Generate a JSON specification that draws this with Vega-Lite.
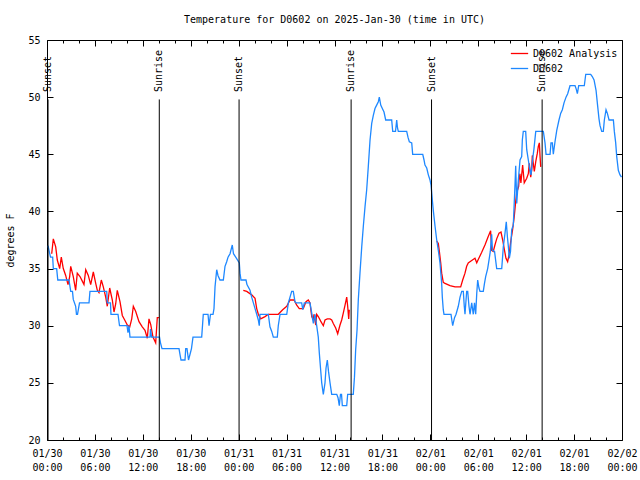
{
  "$schema": "https://vega.github.io/schema/vega-lite/v6.json",
  "width": 575,
  "height": 400,
  "autosize": {"type": "none"},
  "padding": {"left": 47, "top": 40, "right": 18, "bottom": 40},
  "background": "white",
  "title": {"text": "Temperature for D0602 on 2025-Jan-30 (time in UTC)", "font": "DejaVu Sans Mono", "fontSize": 10, "fontWeight": "normal", "color": "black", "offset": 10, "anchor": "middle"},
  "config": {
    "view": {"stroke": "black", "strokeWidth": 1},
    "font": "DejaVu Sans Mono",
    "axis": {"labelFont": "DejaVu Sans Mono", "labelFontSize": 10, "labelColor": "black", "titleFont": "DejaVu Sans Mono", "titleFontSize": 10, "titleFontWeight": "normal", "titleColor": "black", "tickColor": "black", "tickWidth": 1, "grid": false, "domain": false},
    "legend": {"labelFont": "DejaVu Sans Mono", "labelFontSize": 10, "labelColor": "black"}
  },
  "datasets": {
    "obs": [
      {"hour":0.59,"temp":36.3,"series":"D0602 Analysis","seg":"a1"},
      {"hour":0.79,"temp":37.6,"series":"D0602 Analysis","seg":"a1"},
      {"hour":1.09,"temp":36.9,"series":"D0602 Analysis","seg":"a1"},
      {"hour":1.29,"temp":35.75,"series":"D0602 Analysis","seg":"a1"},
      {"hour":1.59,"temp":35.0,"series":"D0602 Analysis","seg":"a1"},
      {"hour":1.79,"temp":36.0,"series":"D0602 Analysis","seg":"a1"},
      {"hour":2.04,"temp":35.0,"series":"D0602 Analysis","seg":"a1"},
      {"hour":2.34,"temp":34.4,"series":"D0602 Analysis","seg":"a1"},
      {"hour":2.63,"temp":33.6,"series":"D0602 Analysis","seg":"a1"},
      {"hour":2.84,"temp":34.3,"series":"D0602 Analysis","seg":"a1"},
      {"hour":2.97,"temp":35.2,"series":"D0602 Analysis","seg":"a1"},
      {"hour":3.29,"temp":34.3,"series":"D0602 Analysis","seg":"a1"},
      {"hour":3.59,"temp":33.1,"series":"D0602 Analysis","seg":"a1"},
      {"hour":3.79,"temp":34.6,"series":"D0602 Analysis","seg":"a1"},
      {"hour":4.13,"temp":34.3,"series":"D0602 Analysis","seg":"a1"},
      {"hour":4.42,"temp":33.9,"series":"D0602 Analysis","seg":"a1"},
      {"hour":4.63,"temp":33.6,"series":"D0602 Analysis","seg":"a1"},
      {"hour":4.85,"temp":34.9,"series":"D0602 Analysis","seg":"a1"},
      {"hour":5.17,"temp":34.4,"series":"D0602 Analysis","seg":"a1"},
      {"hour":5.47,"temp":33.6,"series":"D0602 Analysis","seg":"a1"},
      {"hour":5.8,"temp":34.7,"series":"D0602 Analysis","seg":"a1"},
      {"hour":6.1,"temp":33.7,"series":"D0602 Analysis","seg":"a1"},
      {"hour":6.3,"temp":33.1,"series":"D0602 Analysis","seg":"a1"},
      {"hour":6.51,"temp":32.9,"series":"D0602 Analysis","seg":"a1"},
      {"hour":6.8,"temp":34.0,"series":"D0602 Analysis","seg":"a1"},
      {"hour":7.05,"temp":33.4,"series":"D0602 Analysis","seg":"a1"},
      {"hour":7.35,"temp":32.5,"series":"D0602 Analysis","seg":"a1"},
      {"hour":7.55,"temp":31.7,"series":"D0602 Analysis","seg":"a1"},
      {"hour":7.85,"temp":33.3,"series":"D0602 Analysis","seg":"a1"},
      {"hour":8.18,"temp":32.25,"series":"D0602 Analysis","seg":"a1"},
      {"hour":8.39,"temp":31.2,"series":"D0602 Analysis","seg":"a1"},
      {"hour":8.6,"temp":31.9,"series":"D0602 Analysis","seg":"a1"},
      {"hour":8.8,"temp":33.1,"series":"D0602 Analysis","seg":"a1"},
      {"hour":9.14,"temp":32.1,"series":"D0602 Analysis","seg":"a1"},
      {"hour":9.43,"temp":30.9,"series":"D0602 Analysis","seg":"a1"},
      {"hour":9.73,"temp":30.5,"series":"D0602 Analysis","seg":"a1"},
      {"hour":10.06,"temp":30.06,"series":"D0602 Analysis","seg":"a1"},
      {"hour":10.36,"temp":29.9,"series":"D0602 Analysis","seg":"a1"},
      {"hour":10.61,"temp":30.6,"series":"D0602 Analysis","seg":"a1"},
      {"hour":10.81,"temp":31.7,"series":"D0602 Analysis","seg":"a1"},
      {"hour":11.11,"temp":31.25,"series":"D0602 Analysis","seg":"a1"},
      {"hour":11.52,"temp":30.35,"series":"D0602 Analysis","seg":"a1"},
      {"hour":11.93,"temp":29.9,"series":"D0602 Analysis","seg":"a1"},
      {"hour":12.27,"temp":29.6,"series":"D0602 Analysis","seg":"a1"},
      {"hour":12.56,"temp":28.9,"series":"D0602 Analysis","seg":"a1"},
      {"hour":12.77,"temp":30.6,"series":"D0602 Analysis","seg":"a1"},
      {"hour":12.99,"temp":30.1,"series":"D0602 Analysis","seg":"a1"},
      {"hour":13.27,"temp":29.0,"series":"D0602 Analysis","seg":"a1"},
      {"hour":13.61,"temp":28.5,"series":"D0602 Analysis","seg":"a1"},
      {"hour":13.81,"temp":30.7,"series":"D0602 Analysis","seg":"a1"},
      {"hour":14.02,"temp":30.7,"series":"D0602 Analysis","seg":"a1"},
      {"hour":24.58,"temp":33.1,"series":"D0602 Analysis","seg":"a2"},
      {"hour":25.01,"temp":33.0,"series":"D0602 Analysis","seg":"a2"},
      {"hour":25.63,"temp":32.7,"series":"D0602 Analysis","seg":"a2"},
      {"hour":26.05,"temp":32.4,"series":"D0602 Analysis","seg":"a2"},
      {"hour":26.26,"temp":31.5,"series":"D0602 Analysis","seg":"a2"},
      {"hour":26.46,"temp":31.0,"series":"D0602 Analysis","seg":"a2"},
      {"hour":26.76,"temp":30.6,"series":"D0602 Analysis","seg":"a2"},
      {"hour":27.3,"temp":30.8,"series":"D0602 Analysis","seg":"a2"},
      {"hour":27.71,"temp":31.0,"series":"D0602 Analysis","seg":"a2"},
      {"hour":28.96,"temp":31.0,"series":"D0602 Analysis","seg":"a2"},
      {"hour":29.51,"temp":31.4,"series":"D0602 Analysis","seg":"a2"},
      {"hour":30.02,"temp":31.7,"series":"D0602 Analysis","seg":"a2"},
      {"hour":30.43,"temp":32.25,"series":"D0602 Analysis","seg":"a2"},
      {"hour":30.93,"temp":32.25,"series":"D0602 Analysis","seg":"a2"},
      {"hour":31.27,"temp":31.8,"series":"D0602 Analysis","seg":"a2"},
      {"hour":31.59,"temp":31.5,"series":"D0602 Analysis","seg":"a2"},
      {"hour":32.09,"temp":31.5,"series":"D0602 Analysis","seg":"a2"},
      {"hour":32.43,"temp":32.1,"series":"D0602 Analysis","seg":"a2"},
      {"hour":32.72,"temp":32.25,"series":"D0602 Analysis","seg":"a2"},
      {"hour":32.93,"temp":32.0,"series":"D0602 Analysis","seg":"a2"},
      {"hour":33.15,"temp":30.8,"series":"D0602 Analysis","seg":"a2"},
      {"hour":33.35,"temp":30.5,"series":"D0602 Analysis","seg":"a2"},
      {"hour":33.43,"temp":31.0,"series":"D0602 Analysis","seg":"a2"},
      {"hour":33.65,"temp":30.06,"series":"D0602 Analysis","seg":"a2"},
      {"hour":33.77,"temp":31.0,"series":"D0602 Analysis","seg":"a2"},
      {"hour":33.97,"temp":30.8,"series":"D0602 Analysis","seg":"a2"},
      {"hour":34.27,"temp":30.4,"series":"D0602 Analysis","seg":"a2"},
      {"hour":34.6,"temp":30.0,"series":"D0602 Analysis","seg":"a2"},
      {"hour":34.81,"temp":30.5,"series":"D0602 Analysis","seg":"a2"},
      {"hour":35.1,"temp":30.6,"series":"D0602 Analysis","seg":"a2"},
      {"hour":35.44,"temp":30.6,"series":"D0602 Analysis","seg":"a2"},
      {"hour":35.65,"temp":30.5,"series":"D0602 Analysis","seg":"a2"},
      {"hour":35.85,"temp":30.2,"series":"D0602 Analysis","seg":"a2"},
      {"hour":36.15,"temp":29.8,"series":"D0602 Analysis","seg":"a2"},
      {"hour":36.4,"temp":29.3,"series":"D0602 Analysis","seg":"a2"},
      {"hour":36.69,"temp":30.06,"series":"D0602 Analysis","seg":"a2"},
      {"hour":36.9,"temp":30.5,"series":"D0602 Analysis","seg":"a2"},
      {"hour":37.1,"temp":31.1,"series":"D0602 Analysis","seg":"a2"},
      {"hour":37.32,"temp":31.8,"series":"D0602 Analysis","seg":"a2"},
      {"hour":37.53,"temp":32.5,"series":"D0602 Analysis","seg":"a2"},
      {"hour":37.65,"temp":31.7,"series":"D0602 Analysis","seg":"a2"},
      {"hour":37.78,"temp":30.6,"series":"D0602 Analysis","seg":"a2"},
      {"hour":37.85,"temp":31.4,"series":"D0602 Analysis","seg":"a2"},
      {"hour":48.8,"temp":37.4,"series":"D0602 Analysis","seg":"a3"},
      {"hour":49.0,"temp":37.2,"series":"D0602 Analysis","seg":"a3"},
      {"hour":49.13,"temp":36.5,"series":"D0602 Analysis","seg":"a3"},
      {"hour":49.3,"temp":35.5,"series":"D0602 Analysis","seg":"a3"},
      {"hour":49.42,"temp":34.6,"series":"D0602 Analysis","seg":"a3"},
      {"hour":49.62,"temp":33.8,"series":"D0602 Analysis","seg":"a3"},
      {"hour":49.84,"temp":33.7,"series":"D0602 Analysis","seg":"a3"},
      {"hour":50.46,"temp":33.5,"series":"D0602 Analysis","seg":"a3"},
      {"hour":51.09,"temp":33.4,"series":"D0602 Analysis","seg":"a3"},
      {"hour":51.8,"temp":33.4,"series":"D0602 Analysis","seg":"a3"},
      {"hour":52.05,"temp":34.0,"series":"D0602 Analysis","seg":"a3"},
      {"hour":52.34,"temp":34.6,"series":"D0602 Analysis","seg":"a3"},
      {"hour":52.55,"temp":35.2,"series":"D0602 Analysis","seg":"a3"},
      {"hour":52.75,"temp":35.5,"series":"D0602 Analysis","seg":"a3"},
      {"hour":53.18,"temp":35.7,"series":"D0602 Analysis","seg":"a3"},
      {"hour":53.59,"temp":35.9,"series":"D0602 Analysis","seg":"a3"},
      {"hour":53.81,"temp":35.5,"series":"D0602 Analysis","seg":"a3"},
      {"hour":54.0,"temp":35.8,"series":"D0602 Analysis","seg":"a3"},
      {"hour":54.42,"temp":36.4,"series":"D0602 Analysis","seg":"a3"},
      {"hour":54.84,"temp":37.06,"series":"D0602 Analysis","seg":"a3"},
      {"hour":55.25,"temp":37.8,"series":"D0602 Analysis","seg":"a3"},
      {"hour":55.55,"temp":38.3,"series":"D0602 Analysis","seg":"a3"},
      {"hour":55.68,"temp":36.6,"series":"D0602 Analysis","seg":"a3"},
      {"hour":55.88,"temp":36.5,"series":"D0602 Analysis","seg":"a3"},
      {"hour":56.09,"temp":37.06,"series":"D0602 Analysis","seg":"a3"},
      {"hour":56.31,"temp":37.6,"series":"D0602 Analysis","seg":"a3"},
      {"hour":56.6,"temp":38.1,"series":"D0602 Analysis","seg":"a3"},
      {"hour":56.85,"temp":38.2,"series":"D0602 Analysis","seg":"a3"},
      {"hour":57.06,"temp":37.5,"series":"D0602 Analysis","seg":"a3"},
      {"hour":57.26,"temp":36.7,"series":"D0602 Analysis","seg":"a3"},
      {"hour":57.47,"temp":35.9,"series":"D0602 Analysis","seg":"a3"},
      {"hour":57.68,"temp":35.6,"series":"D0602 Analysis","seg":"a3"},
      {"hour":57.88,"temp":36.3,"series":"D0602 Analysis","seg":"a3"},
      {"hour":58.05,"temp":37.3,"series":"D0602 Analysis","seg":"a3"},
      {"hour":58.3,"temp":38.4,"series":"D0602 Analysis","seg":"a3"},
      {"hour":58.5,"temp":39.5,"series":"D0602 Analysis","seg":"a3"},
      {"hour":58.68,"temp":40.8,"series":"D0602 Analysis","seg":"a3"},
      {"hour":58.8,"temp":41.6,"series":"D0602 Analysis","seg":"a3"},
      {"hour":58.93,"temp":41.9,"series":"D0602 Analysis","seg":"a3"},
      {"hour":59.06,"temp":42.2,"series":"D0602 Analysis","seg":"a3"},
      {"hour":59.13,"temp":42.9,"series":"D0602 Analysis","seg":"a3"},
      {"hour":59.22,"temp":43.3,"series":"D0602 Analysis","seg":"a3"},
      {"hour":59.34,"temp":42.5,"series":"D0602 Analysis","seg":"a3"},
      {"hour":59.56,"temp":44.06,"series":"D0602 Analysis","seg":"a3"},
      {"hour":59.76,"temp":42.5,"series":"D0602 Analysis","seg":"a3"},
      {"hour":60.07,"temp":42.9,"series":"D0602 Analysis","seg":"a3"},
      {"hour":60.27,"temp":43.3,"series":"D0602 Analysis","seg":"a3"},
      {"hour":60.39,"temp":44.2,"series":"D0602 Analysis","seg":"a3"},
      {"hour":60.57,"temp":43.0,"series":"D0602 Analysis","seg":"a3"},
      {"hour":60.69,"temp":43.6,"series":"D0602 Analysis","seg":"a3"},
      {"hour":60.77,"temp":44.9,"series":"D0602 Analysis","seg":"a3"},
      {"hour":60.89,"temp":44.2,"series":"D0602 Analysis","seg":"a3"},
      {"hour":61.02,"temp":43.5,"series":"D0602 Analysis","seg":"a3"},
      {"hour":61.2,"temp":44.35,"series":"D0602 Analysis","seg":"a3"},
      {"hour":61.4,"temp":45.1,"series":"D0602 Analysis","seg":"a3"},
      {"hour":61.52,"temp":45.7,"series":"D0602 Analysis","seg":"a3"},
      {"hour":61.65,"temp":46.0,"series":"D0602 Analysis","seg":"a3"},
      {"hour":61.74,"temp":44.8,"series":"D0602 Analysis","seg":"a3"},
      {"hour":61.82,"temp":43.9,"series":"D0602 Analysis","seg":"a3"},
      {"hour":0.13,"temp":37,"series":"D0602","seg":"b"},
      {"hour":0.25,"temp":36.6,"series":"D0602","seg":"b"},
      {"hour":0.44,"temp":36,"series":"D0602","seg":"b"},
      {"hour":0.71,"temp":36,"series":"D0602","seg":"b"},
      {"hour":0.79,"temp":35,"series":"D0602","seg":"b"},
      {"hour":1.21,"temp":35,"series":"D0602","seg":"b"},
      {"hour":1.35,"temp":34,"series":"D0602","seg":"b"},
      {"hour":2.75,"temp":34,"series":"D0602","seg":"b"},
      {"hour":2.97,"temp":33,"series":"D0602","seg":"b"},
      {"hour":3.19,"temp":33,"series":"D0602","seg":"b"},
      {"hour":3.29,"temp":32.3,"series":"D0602","seg":"b"},
      {"hour":3.59,"temp":31.7,"series":"D0602","seg":"b"},
      {"hour":3.69,"temp":31,"series":"D0602","seg":"b"},
      {"hour":3.82,"temp":31,"series":"D0602","seg":"b"},
      {"hour":4.07,"temp":32,"series":"D0602","seg":"b"},
      {"hour":5.26,"temp":32,"series":"D0602","seg":"b"},
      {"hour":5.38,"temp":33,"series":"D0602","seg":"b"},
      {"hour":7.48,"temp":33,"series":"D0602","seg":"b"},
      {"hour":7.55,"temp":32,"series":"D0602","seg":"b"},
      {"hour":7.95,"temp":32,"series":"D0602","seg":"b"},
      {"hour":8.01,"temp":31,"series":"D0602","seg":"b"},
      {"hour":8.89,"temp":31,"series":"D0602","seg":"b"},
      {"hour":9.08,"temp":30,"series":"D0602","seg":"b"},
      {"hour":10.02,"temp":30,"series":"D0602","seg":"b"},
      {"hour":10.14,"temp":29.4,"series":"D0602","seg":"b"},
      {"hour":10.27,"temp":30,"series":"D0602","seg":"b"},
      {"hour":10.39,"temp":29,"series":"D0602","seg":"b"},
      {"hour":12.9,"temp":29,"series":"D0602","seg":"b"},
      {"hour":12.96,"temp":29.7,"series":"D0602","seg":"b"},
      {"hour":13.09,"temp":29,"series":"D0602","seg":"b"},
      {"hour":14.09,"temp":29,"series":"D0602","seg":"b"},
      {"hour":14.21,"temp":28.5,"series":"D0602","seg":"b"},
      {"hour":14.4,"temp":28,"series":"D0602","seg":"b"},
      {"hour":16.53,"temp":28,"series":"D0602","seg":"b"},
      {"hour":16.65,"temp":27.5,"series":"D0602","seg":"b"},
      {"hour":16.78,"temp":27,"series":"D0602","seg":"b"},
      {"hour":17.28,"temp":27,"series":"D0602","seg":"b"},
      {"hour":17.37,"temp":28,"series":"D0602","seg":"b"},
      {"hour":17.53,"temp":28,"series":"D0602","seg":"b"},
      {"hour":17.72,"temp":27,"series":"D0602","seg":"b"},
      {"hour":17.91,"temp":27.5,"series":"D0602","seg":"b"},
      {"hour":18.09,"temp":28,"series":"D0602","seg":"b"},
      {"hour":18.28,"temp":29,"series":"D0602","seg":"b"},
      {"hour":19.37,"temp":29,"series":"D0602","seg":"b"},
      {"hour":19.47,"temp":30,"series":"D0602","seg":"b"},
      {"hour":19.57,"temp":31,"series":"D0602","seg":"b"},
      {"hour":20.16,"temp":31,"series":"D0602","seg":"b"},
      {"hour":20.29,"temp":30,"series":"D0602","seg":"b"},
      {"hour":20.47,"temp":31,"series":"D0602","seg":"b"},
      {"hour":20.79,"temp":31,"series":"D0602","seg":"b"},
      {"hour":20.91,"temp":31.5,"series":"D0602","seg":"b"},
      {"hour":21.04,"temp":33.4,"series":"D0602","seg":"b"},
      {"hour":21.25,"temp":34.9,"series":"D0602","seg":"b"},
      {"hour":21.41,"temp":34.4,"series":"D0602","seg":"b"},
      {"hour":21.66,"temp":34,"series":"D0602","seg":"b"},
      {"hour":22.08,"temp":34,"series":"D0602","seg":"b"},
      {"hour":22.29,"temp":35.2,"series":"D0602","seg":"b"},
      {"hour":22.5,"temp":35.6,"series":"D0602","seg":"b"},
      {"hour":22.67,"temp":36,"series":"D0602","seg":"b"},
      {"hour":22.92,"temp":36.3,"series":"D0602","seg":"b"},
      {"hour":23.2,"temp":37.06,"series":"D0602","seg":"b"},
      {"hour":23.35,"temp":36.3,"series":"D0602","seg":"b"},
      {"hour":23.73,"temp":35.9,"series":"D0602","seg":"b"},
      {"hour":24.08,"temp":35.5,"series":"D0602","seg":"b"},
      {"hour":24.17,"temp":34.6,"series":"D0602","seg":"b"},
      {"hour":24.29,"temp":34,"series":"D0602","seg":"b"},
      {"hour":24.92,"temp":34,"series":"D0602","seg":"b"},
      {"hour":25.04,"temp":33.6,"series":"D0602","seg":"b"},
      {"hour":25.42,"temp":33.1,"series":"D0602","seg":"b"},
      {"hour":25.63,"temp":32.5,"series":"D0602","seg":"b"},
      {"hour":26.05,"temp":31.5,"series":"D0602","seg":"b"},
      {"hour":26.26,"temp":31,"series":"D0602","seg":"b"},
      {"hour":26.46,"temp":30.5,"series":"D0602","seg":"b"},
      {"hour":26.58,"temp":30,"series":"D0602","seg":"b"},
      {"hour":26.67,"temp":31,"series":"D0602","seg":"b"},
      {"hour":27.71,"temp":31,"series":"D0602","seg":"b"},
      {"hour":27.92,"temp":29.9,"series":"D0602","seg":"b"},
      {"hour":28.14,"temp":29.5,"series":"D0602","seg":"b"},
      {"hour":28.34,"temp":29,"series":"D0602","seg":"b"},
      {"hour":28.84,"temp":29,"series":"D0602","seg":"b"},
      {"hour":28.96,"temp":30,"series":"D0602","seg":"b"},
      {"hour":29.18,"temp":31,"series":"D0602","seg":"b"},
      {"hour":30.02,"temp":31,"series":"D0602","seg":"b"},
      {"hour":30.22,"temp":32,"series":"D0602","seg":"b"},
      {"hour":30.43,"temp":32.5,"series":"D0602","seg":"b"},
      {"hour":30.64,"temp":33,"series":"D0602","seg":"b"},
      {"hour":30.84,"temp":33,"series":"D0602","seg":"b"},
      {"hour":31.05,"temp":32.1,"series":"D0602","seg":"b"},
      {"hour":31.18,"temp":32,"series":"D0602","seg":"b"},
      {"hour":31.89,"temp":32,"series":"D0602","seg":"b"},
      {"hour":32.03,"temp":31.4,"series":"D0602","seg":"b"},
      {"hour":32.22,"temp":32,"series":"D0602","seg":"b"},
      {"hour":32.93,"temp":32,"series":"D0602","seg":"b"},
      {"hour":33.15,"temp":31.1,"series":"D0602","seg":"b"},
      {"hour":33.35,"temp":30.2,"series":"D0602","seg":"b"},
      {"hour":33.56,"temp":31,"series":"D0602","seg":"b"},
      {"hour":33.77,"temp":30,"series":"D0602","seg":"b"},
      {"hour":33.97,"temp":29,"series":"D0602","seg":"b"},
      {"hour":34.1,"temp":27.6,"series":"D0602","seg":"b"},
      {"hour":34.27,"temp":26.1,"series":"D0602","seg":"b"},
      {"hour":34.4,"temp":25,"series":"D0602","seg":"b"},
      {"hour":34.6,"temp":24,"series":"D0602","seg":"b"},
      {"hour":34.81,"temp":25,"series":"D0602","seg":"b"},
      {"hour":34.94,"temp":26.3,"series":"D0602","seg":"b"},
      {"hour":35.1,"temp":27,"series":"D0602","seg":"b"},
      {"hour":35.25,"temp":26,"series":"D0602","seg":"b"},
      {"hour":35.44,"temp":25,"series":"D0602","seg":"b"},
      {"hour":35.65,"temp":24,"series":"D0602","seg":"b"},
      {"hour":36.28,"temp":24,"series":"D0602","seg":"b"},
      {"hour":36.44,"temp":23.7,"series":"D0602","seg":"b"},
      {"hour":36.6,"temp":23,"series":"D0602","seg":"b"},
      {"hour":36.75,"temp":24,"series":"D0602","seg":"b"},
      {"hour":36.88,"temp":24,"series":"D0602","seg":"b"},
      {"hour":36.98,"temp":23,"series":"D0602","seg":"b"},
      {"hour":37.53,"temp":23,"series":"D0602","seg":"b"},
      {"hour":37.65,"temp":24,"series":"D0602","seg":"b"},
      {"hour":38.35,"temp":24,"series":"D0602","seg":"b"},
      {"hour":38.5,"temp":25.5,"series":"D0602","seg":"b"},
      {"hour":38.65,"temp":27.9,"series":"D0602","seg":"b"},
      {"hour":38.82,"temp":29.6,"series":"D0602","seg":"b"},
      {"hour":38.98,"temp":32.25,"series":"D0602","seg":"b"},
      {"hour":39.19,"temp":34.6,"series":"D0602","seg":"b"},
      {"hour":39.41,"temp":36.9,"series":"D0602","seg":"b"},
      {"hour":39.61,"temp":38.7,"series":"D0602","seg":"b"},
      {"hour":39.82,"temp":40.4,"series":"D0602","seg":"b"},
      {"hour":40.03,"temp":41.9,"series":"D0602","seg":"b"},
      {"hour":40.23,"temp":43.9,"series":"D0602","seg":"b"},
      {"hour":40.45,"temp":46.25,"series":"D0602","seg":"b"},
      {"hour":40.66,"temp":47.7,"series":"D0602","seg":"b"},
      {"hour":40.86,"temp":48.4,"series":"D0602","seg":"b"},
      {"hour":41.07,"temp":49,"series":"D0602","seg":"b"},
      {"hour":41.28,"temp":49.3,"series":"D0602","seg":"b"},
      {"hour":41.49,"temp":49.6,"series":"D0602","seg":"b"},
      {"hour":41.61,"temp":50,"series":"D0602","seg":"b"},
      {"hour":41.79,"temp":49.3,"series":"D0602","seg":"b"},
      {"hour":41.99,"temp":49,"series":"D0602","seg":"b"},
      {"hour":42.2,"temp":48.7,"series":"D0602","seg":"b"},
      {"hour":42.41,"temp":48,"series":"D0602","seg":"b"},
      {"hour":43.16,"temp":48,"series":"D0602","seg":"b"},
      {"hour":43.29,"temp":47,"series":"D0602","seg":"b"},
      {"hour":43.64,"temp":47,"series":"D0602","seg":"b"},
      {"hour":43.79,"temp":48,"series":"D0602","seg":"b"},
      {"hour":43.89,"temp":47.3,"series":"D0602","seg":"b"},
      {"hour":43.99,"temp":47,"series":"D0602","seg":"b"},
      {"hour":45.04,"temp":47,"series":"D0602","seg":"b"},
      {"hour":45.2,"temp":46.5,"series":"D0602","seg":"b"},
      {"hour":45.37,"temp":46.1,"series":"D0602","seg":"b"},
      {"hour":45.67,"temp":46,"series":"D0602","seg":"b"},
      {"hour":45.79,"temp":45,"series":"D0602","seg":"b"},
      {"hour":47.05,"temp":45,"series":"D0602","seg":"b"},
      {"hour":47.21,"temp":44.5,"series":"D0602","seg":"b"},
      {"hour":47.33,"temp":44.06,"series":"D0602","seg":"b"},
      {"hour":47.55,"temp":43.8,"series":"D0602","seg":"b"},
      {"hour":47.75,"temp":43.2,"series":"D0602","seg":"b"},
      {"hour":47.96,"temp":42.75,"series":"D0602","seg":"b"},
      {"hour":48.09,"temp":42.3,"series":"D0602","seg":"b"},
      {"hour":48.25,"temp":41,"series":"D0602","seg":"b"},
      {"hour":48.37,"temp":40.1,"series":"D0602","seg":"b"},
      {"hour":48.59,"temp":38.7,"series":"D0602","seg":"b"},
      {"hour":48.8,"temp":37.5,"series":"D0602","seg":"b"},
      {"hour":49.0,"temp":36.6,"series":"D0602","seg":"b"},
      {"hour":49.21,"temp":35.5,"series":"D0602","seg":"b"},
      {"hour":49.42,"temp":33.7,"series":"D0602","seg":"b"},
      {"hour":49.5,"temp":32.5,"series":"D0602","seg":"b"},
      {"hour":49.62,"temp":31.4,"series":"D0602","seg":"b"},
      {"hour":49.71,"temp":31,"series":"D0602","seg":"b"},
      {"hour":50.59,"temp":31,"series":"D0602","seg":"b"},
      {"hour":50.69,"temp":30.5,"series":"D0602","seg":"b"},
      {"hour":50.8,"temp":30,"series":"D0602","seg":"b"},
      {"hour":51.03,"temp":30.7,"series":"D0602","seg":"b"},
      {"hour":51.22,"temp":31,"series":"D0602","seg":"b"},
      {"hour":51.5,"temp":31.7,"series":"D0602","seg":"b"},
      {"hour":51.72,"temp":32.5,"series":"D0602","seg":"b"},
      {"hour":51.93,"temp":33,"series":"D0602","seg":"b"},
      {"hour":52.13,"temp":33,"series":"D0602","seg":"b"},
      {"hour":52.25,"temp":31.7,"series":"D0602","seg":"b"},
      {"hour":52.34,"temp":31,"series":"D0602","seg":"b"},
      {"hour":52.55,"temp":33,"series":"D0602","seg":"b"},
      {"hour":52.68,"temp":33,"series":"D0602","seg":"b"},
      {"hour":52.84,"temp":31.7,"series":"D0602","seg":"b"},
      {"hour":52.97,"temp":31,"series":"D0602","seg":"b"},
      {"hour":53.18,"temp":32,"series":"D0602","seg":"b"},
      {"hour":53.38,"temp":31,"series":"D0602","seg":"b"},
      {"hour":53.53,"temp":32,"series":"D0602","seg":"b"},
      {"hour":53.68,"temp":31,"series":"D0602","seg":"b"},
      {"hour":53.81,"temp":32.8,"series":"D0602","seg":"b"},
      {"hour":53.93,"temp":34,"series":"D0602","seg":"b"},
      {"hour":54.09,"temp":33.3,"series":"D0602","seg":"b"},
      {"hour":54.22,"temp":33,"series":"D0602","seg":"b"},
      {"hour":54.63,"temp":33,"series":"D0602","seg":"b"},
      {"hour":54.78,"temp":33.7,"series":"D0602","seg":"b"},
      {"hour":54.93,"temp":34.3,"series":"D0602","seg":"b"},
      {"hour":55.18,"temp":35,"series":"D0602","seg":"b"},
      {"hour":55.38,"temp":35.9,"series":"D0602","seg":"b"},
      {"hour":55.51,"temp":36.5,"series":"D0602","seg":"b"},
      {"hour":55.68,"temp":38,"series":"D0602","seg":"b"},
      {"hour":55.78,"temp":36.6,"series":"D0602","seg":"b"},
      {"hour":56.04,"temp":36.5,"series":"D0602","seg":"b"},
      {"hour":56.31,"temp":35,"series":"D0602","seg":"b"},
      {"hour":56.94,"temp":35,"series":"D0602","seg":"b"},
      {"hour":57.14,"temp":36.9,"series":"D0602","seg":"b"},
      {"hour":57.35,"temp":38.1,"series":"D0602","seg":"b"},
      {"hour":57.51,"temp":39.1,"series":"D0602","seg":"b"},
      {"hour":57.66,"temp":37.7,"series":"D0602","seg":"b"},
      {"hour":57.76,"temp":37,"series":"D0602","seg":"b"},
      {"hour":57.89,"temp":35.9,"series":"D0602","seg":"b"},
      {"hour":58.04,"temp":36.5,"series":"D0602","seg":"b"},
      {"hour":58.19,"temp":38.4,"series":"D0602","seg":"b"},
      {"hour":58.39,"temp":38.8,"series":"D0602","seg":"b"},
      {"hour":58.6,"temp":42.3,"series":"D0602","seg":"b"},
      {"hour":58.69,"temp":44,"series":"D0602","seg":"b"},
      {"hour":58.82,"temp":40.7,"series":"D0602","seg":"b"},
      {"hour":59.02,"temp":42.75,"series":"D0602","seg":"b"},
      {"hour":59.23,"temp":44.5,"series":"D0602","seg":"b"},
      {"hour":59.44,"temp":44.8,"series":"D0602","seg":"b"},
      {"hour":59.52,"temp":46.25,"series":"D0602","seg":"b"},
      {"hour":59.64,"temp":47,"series":"D0602","seg":"b"},
      {"hour":59.94,"temp":47,"series":"D0602","seg":"b"},
      {"hour":60.07,"temp":45.4,"series":"D0602","seg":"b"},
      {"hour":60.27,"temp":44.5,"series":"D0602","seg":"b"},
      {"hour":60.48,"temp":43.6,"series":"D0602","seg":"b"},
      {"hour":60.61,"temp":43.2,"series":"D0602","seg":"b"},
      {"hour":60.77,"temp":44.35,"series":"D0602","seg":"b"},
      {"hour":60.98,"temp":45.5,"series":"D0602","seg":"b"},
      {"hour":61.2,"temp":47,"series":"D0602","seg":"b"},
      {"hour":62.15,"temp":47,"series":"D0602","seg":"b"},
      {"hour":62.36,"temp":46,"series":"D0602","seg":"b"},
      {"hour":62.49,"temp":45,"series":"D0602","seg":"b"},
      {"hour":62.99,"temp":45,"series":"D0602","seg":"b"},
      {"hour":63.11,"temp":46,"series":"D0602","seg":"b"},
      {"hour":63.28,"temp":46,"series":"D0602","seg":"b"},
      {"hour":63.4,"temp":45,"series":"D0602","seg":"b"},
      {"hour":63.61,"temp":46.1,"series":"D0602","seg":"b"},
      {"hour":63.83,"temp":47.1,"series":"D0602","seg":"b"},
      {"hour":64.11,"temp":48,"series":"D0602","seg":"b"},
      {"hour":64.33,"temp":48.6,"series":"D0602","seg":"b"},
      {"hour":64.53,"temp":48.9,"series":"D0602","seg":"b"},
      {"hour":64.74,"temp":49.5,"series":"D0602","seg":"b"},
      {"hour":64.99,"temp":50,"series":"D0602","seg":"b"},
      {"hour":65.2,"temp":50.3,"series":"D0602","seg":"b"},
      {"hour":65.49,"temp":51,"series":"D0602","seg":"b"},
      {"hour":66.12,"temp":51,"series":"D0602","seg":"b"},
      {"hour":66.27,"temp":50.7,"series":"D0602","seg":"b"},
      {"hour":66.41,"temp":50.3,"series":"D0602","seg":"b"},
      {"hour":66.58,"temp":51,"series":"D0602","seg":"b"},
      {"hour":67.28,"temp":51,"series":"D0602","seg":"b"},
      {"hour":67.46,"temp":52,"series":"D0602","seg":"b"},
      {"hour":68.08,"temp":52,"series":"D0602","seg":"b"},
      {"hour":68.28,"temp":51.8,"series":"D0602","seg":"b"},
      {"hour":68.5,"temp":51.5,"series":"D0602","seg":"b"},
      {"hour":68.75,"temp":50.6,"series":"D0602","seg":"b"},
      {"hour":68.91,"temp":49.5,"series":"D0602","seg":"b"},
      {"hour":69.12,"temp":48.1,"series":"D0602","seg":"b"},
      {"hour":69.25,"temp":47.5,"series":"D0602","seg":"b"},
      {"hour":69.46,"temp":47,"series":"D0602","seg":"b"},
      {"hour":69.66,"temp":47,"series":"D0602","seg":"b"},
      {"hour":69.79,"temp":48,"series":"D0602","seg":"b"},
      {"hour":70.0,"temp":48.9,"series":"D0602","seg":"b"},
      {"hour":70.16,"temp":48.6,"series":"D0602","seg":"b"},
      {"hour":70.38,"temp":48,"series":"D0602","seg":"b"},
      {"hour":70.92,"temp":48,"series":"D0602","seg":"b"},
      {"hour":71.04,"temp":47,"series":"D0602","seg":"b"},
      {"hour":71.21,"temp":46,"series":"D0602","seg":"b"},
      {"hour":71.34,"temp":44.8,"series":"D0602","seg":"b"},
      {"hour":71.54,"temp":43.6,"series":"D0602","seg":"b"},
      {"hour":71.75,"temp":43.2,"series":"D0602","seg":"b"},
      {"hour":71.94,"temp":43,"series":"D0602","seg":"b"}
    ],
    "sun": [
      {"hour": 0.13, "label": "Sunset"},
      {"hour": 14.06, "label": "Sunrise"},
      {"hour": 24.05, "label": "Sunset"},
      {"hour": 38.08, "label": "Sunrise"},
      {"hour": 48.15, "label": "Sunset"},
      {"hour": 62.0, "label": "Sunrise"}
    ]
  },
  "layer": [
    {
      "data": {"name": "obs"},
      "mark": {"type": "line", "strokeWidth": 1.3, "interpolate": "linear"},
      "encoding": {
        "x": {
          "field": "hour", "type": "quantitative",
          "scale": {"domain": [0, 72], "nice": false, "zero": false},
          "axis": {
            "orient": "bottom", "title": null,
            "values": [0,2,4,6,8,10,12,14,16,18,20,22,24,26,28,30,32,34,36,38,40,42,44,46,48,50,52,54,56,58,60,62,64,66,68,70,72],
            "labelExpr": "datum.value % 6 != 0 ? '' : [datum.value < 48 ? '01/' + (30 + floor(datum.value / 24)) : '02/0' + (floor(datum.value / 24) - 1), (datum.value % 24 < 10 ? '0' : '') + (datum.value % 24) + ':00']",
            "tickSize": {"condition": {"test": "datum.value % 6 != 0", "value": -3}, "value": -6},
            "labelPadding": 14,
            "labelLineHeight": 14,
            "labelOverlap": false,
            "labelFlush": false
          }
        },
        "y": {
          "field": "temp", "type": "quantitative",
          "scale": {"domain": [20, 55], "nice": false, "zero": false},
          "axis": {"orient": "left", "title": "degrees F", "values": [20,25,30,35,40,45,50,55], "tickSize": -6, "labelPadding": 13, "titlePadding": 12}
        },
        "color": {
          "field": "series", "type": "nominal",
          "scale": {"domain": ["D0602 Analysis", "D0602"], "range": ["#ff0000", "#1e88ff"]},
          "legend": {"title": null, "orient": "top-right", "offset": 4, "symbolType": "stroke", "symbolStrokeWidth": 1.3, "symbolSize": 300, "rowPadding": 0, "labelFontSize": 10}
        },
        "detail": {"field": "seg"}
      }
    },
    {
      "data": {"name": "sun"},
      "mark": {"type": "rule", "color": "black", "strokeWidth": 1},
      "encoding": {
        "x": {
          "field": "hour", "type": "quantitative",
          "axis": {
            "orient": "top", "title": null, "labels": false,
            "values": [0,2,4,6,8,10,12,14,16,18,20,22,24,26,28,30,32,34,36,38,40,42,44,46,48,50,52,54,56,58,60,62,64,66,68,70,72],
            "tickSize": {"condition": {"test": "datum.value % 6 != 0", "value": -3}, "value": -6}
          }
        },
        "y": {"datum": 20, "type": "quantitative", "axis": {"orient": "right", "title": null, "labels": false, "values": [20,25,30,35,40,45,50,55], "tickSize": -6}},
        "y2": {"datum": 49.8}
      }
    },
    {
      "data": {"name": "sun"},
      "mark": {"type": "text", "angle": 270, "align": "left", "baseline": "middle", "font": "DejaVu Sans Mono", "fontSize": 10, "color": "black"},
      "encoding": {
        "x": {"field": "hour", "type": "quantitative", "axis": null},
        "y": {"datum": 50.45, "type": "quantitative", "axis": null},
        "text": {"field": "label"}
      }
    }
  ],
  "resolve": {"axis": {"x": "independent", "y": "independent"}}
}
